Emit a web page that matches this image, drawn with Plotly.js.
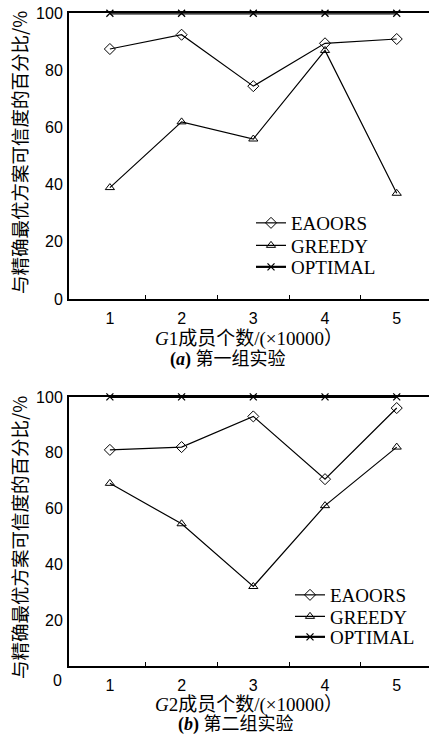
<!DOCTYPE html>
<html>
<head>
<meta charset="utf-8">
<script src="https://cdn.plot.ly/plotly-3.0.1.min.js"></script>
<style>
  html, body { margin: 0; padding: 0; background: #fff; }
  #chart { width: 429px; height: 738px; }
</style>
</head>
<body>
<div id="chart"></div>
<script>
// ---- data ----
const categories = [1, 2, 3, 4, 5];
const eaoorsA  = [87.5, 92.5, 74.5, 89.5, 91];
const greedyA  = [39, 62, 56, 87, 37];
const optimalA = [100, 100, 100, 100, 100];
const eaoorsB  = [81, 82, 93, 70.5, 96];
const greedyB  = [69, 54.5, 32, 61, 82];
const optimalB = [100, 100, 100, 100, 100];
const yTicksA = [0, 20, 40, 60, 80, 100];
const yTicksB = [20, 40, 60, 80, 100];
const yZeroLabelB = '0';
const seriesNames = ['EAOORS', 'GREEDY', 'OPTIMAL'];
const yTitle = '与精确最优方案可信度的百分比/%';
const xTitleA = '<i>G</i>1成员个数/(×10000）';
const xTitleB = '<i>G</i>2成员个数/(×10000）';
const captionA = '<b>(<i>a</i>)</b> 第一组实验';
const captionB = '<b>(<i>b</i>)</b> 第二组实验';

const W = 429, H = 738;
const serif = 'Liberation Serif, Noto Sans CJK SC, serif';
const sans = 'Liberation Sans, Noto Sans CJK SC, sans-serif';

function mk(y, name, symbol, size, xa, ya, legend, lw) {
  return {
    x: categories, y: y, name: name, type: 'scatter', mode: 'lines+markers',
    xaxis: xa, yaxis: ya, legend: legend, showlegend: true, cliponaxis: false,
    line: { color: '#000', width: lw || 1.2 },
    marker: { symbol: symbol, size: size, color: '#000',
              line: { color: '#000', width: symbol === 'x-thin' ? 1.3 : 1 } }
  };
}

const data = [
  mk(eaoorsA, seriesNames[0], 'diamond-open', 8.5, 'x', 'y', 'legend'),
  mk(greedyA, seriesNames[1], 'triangle-up-open', 8, 'x', 'y', 'legend2'),
  mk(optimalA, seriesNames[2], 'x-thin', 7, 'x', 'y', 'legend3', 2.2),
  mk(eaoorsB, seriesNames[0], 'diamond-open', 8.5, 'x2', 'y2', 'legend4'),
  mk(greedyB, seriesNames[1], 'triangle-up-open', 8, 'x2', 'y2', 'legend5'),
  mk(optimalB, seriesNames[2], 'x-thin', 7, 'x2', 'y2', 'legend6', 2.2)
];

function xaxis(anchor, title) {
  return {
    anchor: anchor, domain: [0, 1], range: [0.43, 5.45],
    tickmode: 'array', tickvals: categories, ticktext: categories.map(String),
    ticks: '', showgrid: false, zeroline: false,
    showline: true, linecolor: '#000', linewidth: 2, mirror: true,
    tickfont: { family: sans, size: 16, color: '#000' },
    ticklabelstandoff: 4,
    minor: { tickmode: 'array', tickvals: [1.5, 2.5, 3.5, 4.5], ticks: 'inside',
             ticklen: 4, tickwidth: 1.2, tickcolor: '#000', showgrid: false },
    title: { text: title, font: { family: serif, size: 19, color: '#000' }, standoff: 5 }
  };
}
function yaxis(anchor, dom, range, ticks) {
  return {
    anchor: anchor, domain: dom, range: range,
    tickmode: 'array', tickvals: ticks, ticktext: ticks.map(String),
    ticks: '', showgrid: false, zeroline: false,
    showline: true, linecolor: '#000', linewidth: 2,
    tickfont: { family: sans, size: 16, color: '#000' },
    ticklabelstandoff: 1
  };
}

function leg(xpx, ypx) {
  return {
    x: (xpx - 69) / 360, y: 1 - ypx / H, xanchor: 'left', yanchor: 'middle',
    bgcolor: 'rgba(0,0,0,0)', borderwidth: 0,
    font: { family: serif, size: 19, color: '#000' }
  };
}

function ytitle(cy) {
  return { text: yTitle, xref: 'paper', yref: 'paper', x: (19 - 69) / 360, y: 1 - cy / H,
    xanchor: 'center', yanchor: 'middle', textangle: -90, showarrow: false,
    font: { family: 'Noto Sans CJK SC, sans-serif', size: 18.5, color: '#000' } };
}

const layout = {
  width: W, height: H,
  margin: { l: 69, r: 0, t: 0, b: 0 },
  paper_bgcolor: '#fff', plot_bgcolor: '#fff',
  showlegend: true,
  xaxis: xaxis('y', xTitleA),
  yaxis: yaxis('x', [1 - 299 / H, 1 - 13.3 / H], [0, 100], yTicksA),
  xaxis2: xaxis('y2', xTitleB),
  yaxis2: yaxis('x2', [1 - 665.7 / H, 1 - 396.9 / H], [3.6, 100], yTicksB),
  legend: leg(251, 223),
  legend2: leg(251, 245.5),
  legend3: leg(251, 267),
  legend4: leg(290, 595),
  legend5: leg(290, 616.5),
  legend6: leg(290, 637),
  annotations: [
    ytitle(153),
    ytitle(538),
    { text: captionA, xref: 'paper', yref: 'paper', x: (228 - 69) / 360, y: 1 - 359 / H,
      xanchor: 'center', yanchor: 'middle', showarrow: false,
      font: { family: serif, size: 18, color: '#000' } },
    { text: captionB, xref: 'paper', yref: 'paper', x: (236 - 69) / 360, y: 1 - 724 / H,
      xanchor: 'center', yanchor: 'middle', showarrow: false,
      font: { family: serif, size: 18, color: '#000' } },
    { text: yZeroLabelB, xref: 'paper', yref: 'paper', x: (64 - 69) / 360, y: 1 - 680 / H,
      xanchor: 'right', yanchor: 'middle', showarrow: false,
      font: { family: sans, size: 16, color: '#000' } }
  ]
};

Plotly.newPlot('chart', data, layout, { staticPlot: true, displayModeBar: false });
</script>
</body>
</html>
